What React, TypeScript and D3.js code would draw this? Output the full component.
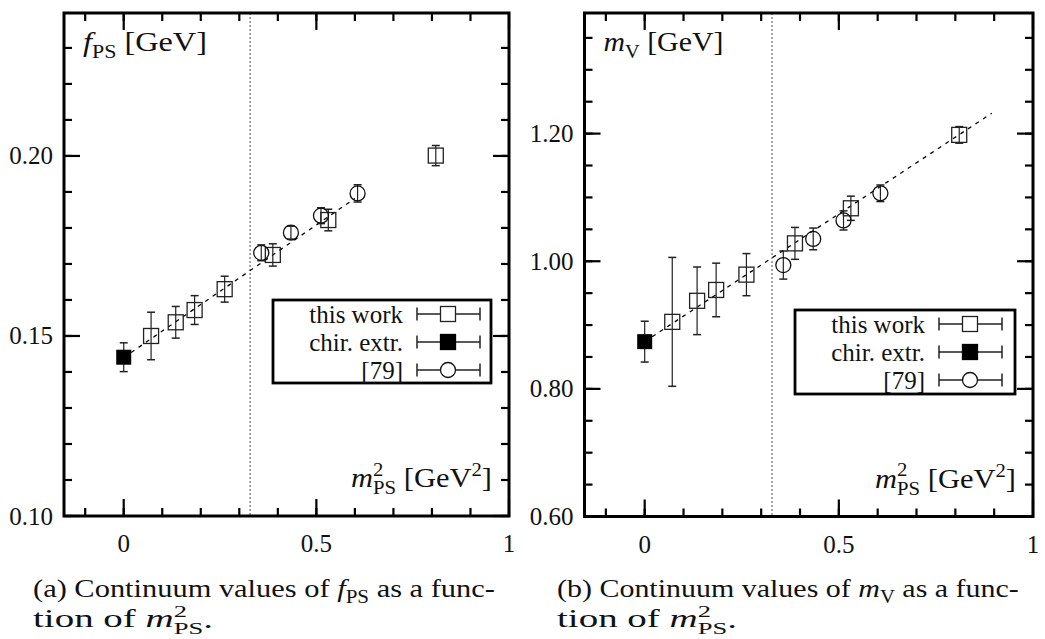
import { useEffect, useRef } from "react";
import * as d3 from "d3";

// m_PS^2 positions [GeV^2], shared by both panels
const workX = [0.071, 0.135, 0.184, 0.262, 0.387, 0.531, 0.81];
const refX = [0.357, 0.434, 0.512, 0.607];
const chirX = 0;
const cutX = 0.328;

// (a) f_PS [GeV]
const fpsWork = [0.15, 0.1538, 0.1572, 0.163, 0.1725, 0.1822, 0.2001];
const fpsWorkErr = [0.0066, 0.0044, 0.004, 0.0036, 0.0031, 0.003, 0.0028];
const fpsChir = 0.1441;
const fpsChirErr = 0.004;
const fpsRef = [0.1731, 0.1787, 0.1834, 0.1896];
const fpsRefErr = [0.0022, 0.0018, 0.0022, 0.0024];
const fpsFitX = [0, 0.6];
const fpsFit = [0.144, 0.1882];

// (b) m_V [GeV]
const mvWork = [0.905, 0.938, 0.955, 0.979, 1.028, 1.083, 1.198];
const mvWorkErr = [0.101, 0.053, 0.042, 0.033, 0.025, 0.019, 0.013];
const mvChir = 0.874;
const mvChirErr = 0.032;
const mvRef = [0.994, 1.035, 1.064, 1.1065];
const mvRefErr = [0.022, 0.017, 0.015, 0.013];
const mvFitX = [0, 0.894];
const mvFit = [0.874, 1.232];

const xTicks = [0, 0.5, 1];
const xTickLabels = ["0", "0.5", "1"];
const fpsTicks = [0.1, 0.15, 0.2];
const fpsTickLabels = ["0.10", "0.15", "0.20"];
const mvTicks = [0.6, 0.8, 1.0, 1.2];
const mvTickLabels = ["0.60", "0.80", "1.00", "1.20"];
const legendLabels = ["this work", "chir. extr.", "[79]"];

const FONT = "'Liberation Serif', 'Times New Roman', serif";
const FS = 25;

type Part = { t: string; i?: boolean; s?: number; dx?: number; dy?: number };

// text with sub/superscripts; optionally stretched horizontally to a target width
// (Computer Modern is wider than the Times face we have)
function rich(g, x, y, parts: Part[], size, anchor = "start", width?: number) {
  const holder = g.append("g").attr("transform", `translate(${x},${y})`);
  const t = holder
    .append("text")
    .attr("text-anchor", anchor)
    .attr("font-family", FONT)
    .attr("font-size", size)
    .attr("fill", "#111")
    .style("white-space", "pre");
  parts.forEach((p) => {
    const s = t.append("tspan").text(p.t);
    if (p.i) s.attr("font-style", "italic");
    if (p.s) s.attr("font-size", p.s);
    if (p.dx) s.attr("dx", p.dx);
    if (p.dy) s.attr("dy", p.dy);
  });
  if (width) {
    const w = t.node().getBBox().width;
    if (w > 0) holder.attr("transform", `translate(${x},${y}) scale(${width / w},1)`);
  }
  return t;
}

const sup = (s) => [
  { t: "2", s: s * 0.68, dy: -s * 0.4 },
  { t: "PS", s: s * 0.68, dx: -s * 0.34, dy: s * 0.65 },
];

function drawPanel(svg, p) {
  const g = svg.append("g");
  const x = d3.scaleLinear().domain([-0.155, 1]).range([p.x0, p.x1]);
  const y = d3.scaleLinear().domain(p.yDomain).range([p.y1, p.y0]);

  // ticks, mirrored on all four sides
  const tick = (x1, y1, x2, y2) =>
    g.append("line").attr("x1", x1).attr("y1", y1).attr("x2", x2).attr("y2", y2).attr("stroke", "#000").attr("stroke-width", 2.2);
  d3.range(-0.1, 0.95, 0.1).forEach((v) => {
    tick(x(v), p.y1, x(v), p.y1 - 8);
    tick(x(v), p.y0, x(v), p.y0 + 8);
  });
  xTicks.forEach((v, i) => {
    tick(x(v), p.y1, x(v), p.y1 - 17);
    tick(x(v), p.y0, x(v), p.y0 + 17);
    g.append("text")
      .attr("x", x(v))
      .attr("y", p.y1 + 36)
      .attr("text-anchor", "middle")
      .attr("font-family", FONT)
      .attr("font-size", FS)
      .attr("fill", "#111")
      .text(xTickLabels[i]);
  });
  d3.range(p.yDomain[0], p.yDomain[1], p.yMinorStep).forEach((v) => {
    tick(p.x0, y(v), p.x0 + 8, y(v));
    tick(p.x1, y(v), p.x1 - 8, y(v));
  });
  p.yTicks.forEach((v, i) => {
    tick(p.x0, y(v), p.x0 + 16, y(v));
    tick(p.x1, y(v), p.x1 - 16, y(v));
    g.append("text")
      .attr("x", p.x0 - 11)
      .attr("y", y(v) + 8.5)
      .attr("text-anchor", "end")
      .attr("font-family", FONT)
      .attr("font-size", FS)
      .attr("fill", "#111")
      .text(p.yTickLabels[i]);
  });

  // dotted cut line
  g.append("line")
    .attr("x1", x(cutX))
    .attr("x2", x(cutX))
    .attr("y1", p.y0)
    .attr("y2", p.y1)
    .attr("stroke", "#777")
    .attr("stroke-width", 1.3)
    .attr("stroke-dasharray", "2,2");

  // fit
  const fit = p.fitX.map((v, i) => [v, p.fit[i]]);
  g.append("path")
    .datum(fit)
    .attr("d", d3.line().x((d) => x(d[0])).y((d) => y(d[1])))
    .attr("fill", "none")
    .attr("stroke", "#000")
    .attr("stroke-width", 1.3)
    .attr("stroke-dasharray", "4,5");

  const errbar = (vx, vy, e) => {
    const cx = x(vx);
    g.append("line").attr("x1", cx).attr("x2", cx).attr("y1", y(vy - e)).attr("y2", y(vy + e)).attr("stroke", "#222").attr("stroke-width", 1.2);
    [vy - e, vy + e].forEach((c) =>
      g.append("line").attr("x1", cx - 4).attr("x2", cx + 4).attr("y1", y(c)).attr("y2", y(c)).attr("stroke", "#222").attr("stroke-width", 1.5)
    );
  };

  workX.forEach((vx, i) => {
    errbar(vx, p.work[i], p.workErr[i]);
    g.append("rect")
      .attr("x", x(vx) - 7.5)
      .attr("y", y(p.work[i]) - 7.5)
      .attr("width", 15)
      .attr("height", 15)
      .attr("fill", "none")
      .attr("stroke", "#222")
      .attr("stroke-width", 1.3);
  });
  refX.forEach((vx, i) => {
    errbar(vx, p.ref[i], p.refErr[i]);
    g.append("circle").attr("cx", x(vx)).attr("cy", y(p.ref[i])).attr("r", 7.5).attr("fill", "none").attr("stroke", "#111").attr("stroke-width", 1.3);
  });
  errbar(chirX, p.chir, p.chirErr);
  g.append("rect")
    .attr("x", x(chirX) - 7.5)
    .attr("y", y(p.chir) - 7.5)
    .attr("width", 15)
    .attr("height", 15)
    .attr("fill", "#000");

  // legend
  const L = p.legend;
  g.append("rect").attr("x", L.x).attr("y", L.y).attr("width", L.w).attr("height", L.h).attr("fill", "#fff").attr("stroke", "#000").attr("stroke-width", 2.8);
  [14, 42, 70].forEach((dy, i) => {
    const ry = L.y + dy;
    g.append("text")
      .attr("x", L.x + 130)
      .attr("y", ry + 8.5)
      .attr("text-anchor", "end")
      .attr("font-family", FONT)
      .attr("font-size", FS)
      .attr("fill", "#111")
      .text(legendLabels[i]);
    const a = L.x + 144,
      b = L.x + 207,
      m = L.x + 175;
    g.append("line").attr("x1", a).attr("x2", b).attr("y1", ry).attr("y2", ry).attr("stroke", "#222").attr("stroke-width", 1.3);
    [a, b].forEach((c) =>
      g.append("line").attr("x1", c).attr("x2", c).attr("y1", ry - 6.5).attr("y2", ry + 6.5).attr("stroke", "#222").attr("stroke-width", 1.5)
    );
    if (i === 2) g.append("circle").attr("cx", m).attr("cy", ry).attr("r", 7.5).attr("fill", "#fff").attr("stroke", "#111").attr("stroke-width", 1.3);
    else
      g.append("rect")
        .attr("x", m - 7.5)
        .attr("y", ry - 7.5)
        .attr("width", 15)
        .attr("height", 15)
        .attr("fill", i === 1 ? "#000" : "#fff")
        .attr("stroke", i === 1 ? "#000" : "#222")
        .attr("stroke-width", 1.3);
  });

  // axis labels inside the frame
  rich(g, p.x0 + 19, p.y0 + 38, p.yLabel, 28, "start", p.yLabelW);
  rich(
    g,
    p.x1 - 17,
    p.y1 - 29,
    [{ t: "m", i: true }, ...sup(28), { t: " [GeV", dy: -7 }, { t: "2", s: 19, dy: -11 }, { t: "]", dy: 11 }],
    28,
    "end",
    141
  );

  // frame
  g.append("rect")
    .attr("x", p.x0)
    .attr("y", p.y0)
    .attr("width", p.x1 - p.x0)
    .attr("height", p.y1 - p.y0)
    .attr("fill", "none")
    .attr("stroke", "#000")
    .attr("stroke-width", 3);

  // caption
  rich(g, p.capX, 597, p.cap1, 26, "start", 462);
  rich(g, p.capX, 627, [{ t: "tion of " }, { t: "m", i: true }, ...sup(26), { t: ".", dy: -6 }], 26, "start", 180);
}

export default function App() {
  const ref = useRef(null);
  useEffect(() => {
    const svg = d3.select(ref.current);
    svg.selectAll("*").remove();
    drawPanel(svg, {
      x0: 64,
      x1: 509,
      y0: 13,
      y1: 516,
      yDomain: [0.1, 0.2397],
      yMinorStep: 0.01,
      yTicks: fpsTicks,
      yTickLabels: fpsTickLabels,
      work: fpsWork,
      workErr: fpsWorkErr,
      chir: fpsChir,
      chirErr: fpsChirErr,
      ref: fpsRef,
      refErr: fpsRefErr,
      fitX: fpsFitX,
      fit: fpsFit,
      legend: { x: 273, y: 300, w: 218, h: 83 },
      yLabel: [{ t: "f", i: true }, { t: "PS", s: 19, dy: 7 }, { t: " [GeV]", dy: -7 }],
      yLabelW: 124,
      capX: 33,
      cap1: [{ t: "(a) Continuum values of " }, { t: "f", i: true }, { t: "PS", s: 18, dy: 6 }, { t: " as a func-", dy: -6 }],
    });
    drawPanel(svg, {
      x0: 584.5,
      x1: 1033,
      y0: 13,
      y1: 516.5,
      yDomain: [0.6, 1.389],
      yMinorStep: 0.05,
      yTicks: mvTicks,
      yTickLabels: mvTickLabels,
      work: mvWork,
      workErr: mvWorkErr,
      chir: mvChir,
      chirErr: mvChirErr,
      ref: mvRef,
      refErr: mvRefErr,
      fitX: mvFitX,
      fit: mvFit,
      legend: { x: 795, y: 310, w: 220, h: 84 },
      yLabel: [{ t: "m", i: true }, { t: "V", s: 19, dy: 7 }, { t: " [GeV]", dy: -7 }],
      yLabelW: 120,
      capX: 557,
      cap1: [{ t: "(b) Continuum values of " }, { t: "m", i: true }, { t: "V", s: 18, dy: 6 }, { t: " as a func-", dy: -6 }],
    });
  }, []);
  return <svg ref={ref} width={1045} height={639} style={{ position: "absolute", left: 0, top: 0, background: "#fff" }} />;
}
